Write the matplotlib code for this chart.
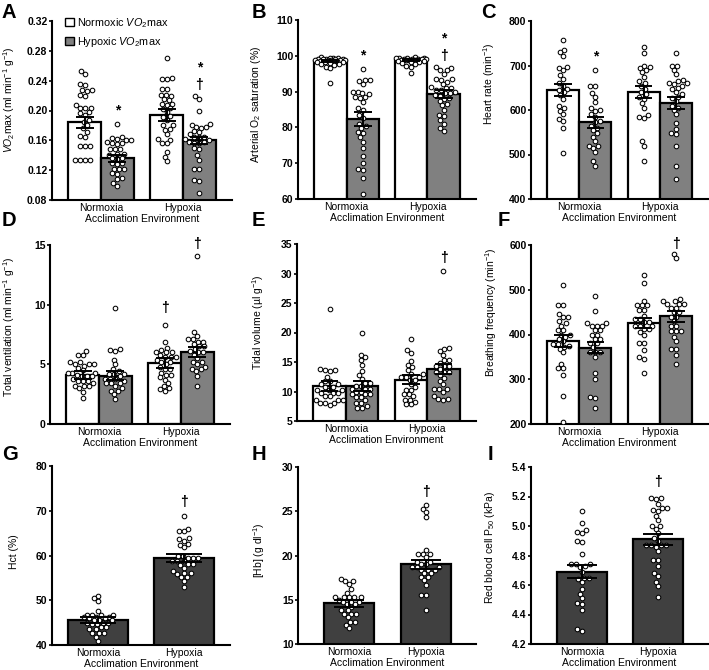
import numpy as np
import matplotlib
matplotlib.use("Agg")
import matplotlib.pyplot as plt
from matplotlib.patches import Patch

plt.rcParams['font.family'] = ['Liberation Sans', 'DejaVu Sans']
plt.rcParams['mathtext.fontset'] = 'custom'
plt.rcParams['mathtext.rm'] = 'Liberation Sans'
plt.rcParams['mathtext.it'] = 'Liberation Sans:italic'
plt.rcParams['mathtext.bf'] = 'Liberation Sans:bold'

groups = ['Normoxia', 'Hypoxia']
xlabel_text = 'Acclimation Environment'
series_labels = [r'Normoxic $\mathit{VO}_2$max', r'Hypoxic $\mathit{VO}_2$max']

# ---- Panel A: VO2max ----
a_nn = [0.253,0.249,0.235,0.234,0.228,0.228,0.226,0.221,0.220,0.208,0.204,0.204,0.203,0.198,0.197,0.194,0.187,0.185,0.180,0.176,0.171,0.166,0.165,0.153,0.153,0.152,0.134,0.134,0.134,0.134]
a_nh = [0.182,0.165,0.163,0.162,0.160,0.160,0.158,0.156,0.156,0.155,0.149,0.149,0.148,0.142,0.142,0.141,0.136,0.136,0.135,0.129,0.129,0.128,0.122,0.122,0.121,0.116,0.115,0.109,0.108,0.103,0.099]
a_hn = [0.271,0.244,0.242,0.242,0.229,0.229,0.221,0.221,0.220,0.215,0.214,0.209,0.209,0.208,0.203,0.202,0.198,0.192,0.191,0.187,0.180,0.180,0.175,0.174,0.168,0.162,0.161,0.157,0.156,0.145,0.138,0.132]
a_hh = [0.219,0.215,0.200,0.182,0.181,0.178,0.178,0.177,0.172,0.171,0.168,0.165,0.165,0.164,0.162,0.161,0.158,0.158,0.157,0.157,0.150,0.149,0.140,0.134,0.122,0.121,0.107,0.106,0.089]
a_mean = [[0.184, 0.136], [0.194, 0.160]]
a_sem = [[0.0076, 0.005], [0.0076, 0.005]]

# ---- Panel B: arterial O2 saturation ----
b_nn = [99.6,99.5,99.4,99.3,99.2,99.2,99.1,99.0,99.0,98.9,98.9,98.8,98.8,98.7,98.6,98.5,98.5,98.4,98.3,98.2,98.0,97.8,97.6,97.3,97.0,96.5,92.3]
b_nh = [96.3,93.3,93.2,93.0,92.0,90.0,89.8,89.5,89.3,88.6,88.4,88.2,87.0,85.3,85.0,83.5,82.5,81.0,80.5,79.8,78.8,78.5,77.2,76.0,74.2,72.0,70.0,68.3,68.2,65.8,61.3]
b_hn = [99.6,99.5,99.4,99.4,99.3,99.2,99.1,99.1,99.0,99.0,98.9,98.8,98.8,98.7,98.6,98.5,98.4,98.2,98.0,97.6,97.2,96.8,95.2]
b_hh = [96.8,96.6,96.1,95.9,95.0,93.5,93.4,93.2,92.8,92.0,91.2,91.1,90.9,90.5,90.4,89.8,89.7,89.6,89.0,88.9,88.2,88.0,87.5,86.5,86.3,85.0,83.5,83.3,82.0,81.0,79.8,79.0]
b_mean = [[98.5, 82.3], [98.8, 89.3]]
b_sem = [[0.3, 1.9], [0.2, 1.15]]

# ---- Panel C: heart rate ----
c_nn = [757,735,730,722,697,695,690,678,670,660,655,648,645,640,633,625,610,605,598,590,580,575,560,503]
c_nh = [690,655,653,638,630,618,605,600,598,592,585,575,573,565,560,555,548,540,530,520,518,515,505,485,475]
c_hn = [742,728,700,697,695,690,685,675,665,660,655,648,640,635,630,625,615,605,588,585,582,530,520,485]
c_hh = [728,700,698,690,680,668,665,660,660,658,655,650,648,640,635,630,628,620,610,605,600,590,570,558,548,545,520,475,445]
c_mean = [[645, 572], [641, 616]]
c_sem = [[13, 12], [13, 14]]

# ---- Panel D: total ventilation ----
d_nn = [6.1,5.8,5.8,5.2,5.2,5.0,5.0,5.0,4.9,4.7,4.5,4.3,4.3,4.3,4.1,4.0,4.0,4.0,3.8,3.6,3.6,3.6,3.4,3.2,3.2,3.2,3.0,2.7,2.2]
d_nh = [9.7,6.3,6.2,6.1,5.4,5.0,4.6,4.4,4.2,4.2,4.2,4.0,3.8,3.8,3.8,3.6,3.4,3.4,3.4,3.2,3.0,2.8,2.8,2.5,2.1]
d_hn = [8.3,6.9,6.4,6.2,6.0,6.0,6.0,5.8,5.6,5.6,5.6,5.4,5.2,5.2,5.0,4.8,4.6,4.6,4.3,4.1,4.1,3.9,3.7,3.4,3.2,3.0,2.9,2.8]
d_hh = [14.1,7.7,7.4,7.1,7.1,6.9,6.9,6.7,6.5,6.5,6.3,6.1,6.0,6.0,5.8,5.5,5.2,5.2,5.0,4.8,4.6,4.6,4.4,4.0,3.2]
d_mean = [[4.1, 4.05], [5.1, 6.05]]
d_sem = [[0.33, 0.38], [0.39, 0.42]]

# ---- Panel E: tidal volume ----
e_nn = [23.9,13.8,13.7,13.6,13.5,12.5,11.8,11.8,11.2,11.2,10.8,10.8,10.3,10.3,10.3,9.8,9.8,9.8,9.2,9.2,8.5,8.5,8.5,8.0,8.0,8.0,7.7]
e_nh = [19.9,16.2,15.8,15.3,14.5,13.5,12.8,12.2,11.5,11.5,11.0,11.0,10.5,10.5,10.5,10.0,10.0,9.5,9.5,9.5,9.0,9.0,8.5,8.0,8.0,7.5,7.2,7.2]
e_hn = [18.9,17.0,16.5,15.2,14.5,14.1,13.6,12.9,12.9,12.5,12.5,12.5,12.0,12.0,11.2,10.8,10.3,10.3,9.6,9.6,9.2,8.6,8.6,8.2,7.8,7.8]
e_hh = [30.5,17.3,17.2,16.8,16.2,15.3,15.3,14.8,14.3,14.3,14.3,13.8,13.3,13.3,13.3,12.8,12.3,11.8,11.2,10.5,10.5,10.5,10.0,9.2,8.8,8.8,8.6]
e_mean = [[10.9, 10.9], [12.0, 13.8]]
e_sem = [[0.85, 0.85], [0.74, 0.9]]

# ---- Panel F: breathing frequency ----
f_nn = [510,466,465,445,440,440,430,425,420,410,410,400,400,395,390,385,378,378,375,372,368,360,335,325,325,310,262,205]
f_nh = [486,452,425,425,420,420,420,410,410,400,400,390,390,380,380,372,362,362,362,350,315,300,260,258,236]
f_hn = [532,515,475,465,465,465,455,455,442,435,435,428,428,420,420,420,412,412,405,398,380,380,365,350,346,315]
f_hh = [580,570,480,475,475,468,468,468,460,460,450,450,440,440,430,420,420,408,408,408,395,385,368,368,355,335]
f_mean = [[385, 370], [426, 441]]
f_sem = [[13.8, 12.3], [10.8, 12.3]]

# ---- Panel G: Hct ----
g_n = [51.0,50.5,49.8,47.6,46.6,46.6,46.6,46.6,46.3,46.3,46.3,46.0,46.0,45.6,45.6,45.6,45.0,45.0,45.0,44.6,44.6,44.0,44.0,43.5,43.5,42.6,42.6,42.6,41.8,40.8]
g_h = [68.8,66.0,65.5,65.4,63.8,63.6,63.3,62.5,62.4,61.8,60.0,59.9,59.5,59.5,59.4,58.8,58.8,58.7,58.0,58.0,57.9,57.2,56.5,56.0,56.0,55.9,55.2,55.1,54.3,53.0]
g_mean = [45.6, 59.5]
g_sem = [0.63, 0.93]

# ---- Panel H: [Hb] ----
h_n = [17.3,17.1,17.1,16.8,16.2,15.8,15.3,15.3,15.3,15.3,15.3,15.0,14.8,14.8,14.8,14.5,14.5,14.2,13.8,13.8,13.4,13.4,13.4,13.0,12.5,12.5,12.2,11.8]
h_h = [25.7,25.3,24.9,24.3,20.6,20.2,20.2,20.2,19.8,19.3,19.3,19.0,19.0,18.7,18.7,18.7,18.4,18.4,18.4,18.0,18.0,17.6,17.6,17.2,16.7,15.5,15.5,13.8]
h_mean = [14.6, 19.0]
h_sem = [0.375, 0.54]

# ---- Panel I: RBC P50 ----
i_n = [5.10,5.02,4.97,4.96,4.95,4.90,4.89,4.81,4.74,4.74,4.74,4.73,4.72,4.69,4.65,4.65,4.64,4.62,4.57,4.54,4.51,4.48,4.47,4.43,4.30,4.29]
i_h = [5.19,5.19,5.18,5.15,5.12,5.12,5.11,5.10,5.07,5.04,5.00,5.00,4.98,4.95,4.92,4.90,4.87,4.87,4.87,4.87,4.86,4.83,4.77,4.77,4.73,4.68,4.66,4.62,4.59,4.52]
i_mean = [4.69, 4.91]
i_sem = [0.045, 0.037]

# significance marks: (symbol, group, series, y)
a_marks = [('*', 0, 1, 0.206), ('*', 1, 1, 0.263), ('†', 1, 1, 0.234)]
b_marks = [('*', 0, 1, 101.2), ('*', 1, 1, 106.0), ('†', 1, 1, 100.0)]
c_marks = [('*', 0, 1, 730)]
d_marks = [('†', 1, 0, 9.7), ('†', 1, 1, 15.1)]
e_marks = [('†', 1, 1, 32.7)]
f_marks = [('†', 1, 1, 603)]
g_marks = [('†', 1, 0, 72.0)]
h_marks = [('†', 1, 0, 27.2)]
i_marks = [('†', 1, 0, 5.30)]

WHITE = 'white'
GRAY = '#808080'
DARK = '#404040'

W, H = 709, 670
fig = plt.figure(figsize=(W / 100, H / 100), dpi=100)


def px_axes(l, r, t, b):
    return fig.add_axes([l / W, 1 - b / H, (r - l) / W, (b - t) / H])


def swarm(ax, vals, xc, d=4.8, maxw=15.0):
    tr = ax.transData
    vals = np.asarray(vals, float)
    ypx = tr.transform(np.column_stack([np.full(len(vals), xc), vals]))[:, 1]
    x0 = tr.transform((xc, 0))[0]
    ppu = tr.transform((xc + 1, 0))[0] - x0
    grid = np.arange(-maxw, maxw + 0.01, 0.5)
    grid = grid[np.lexsort((grid, np.abs(grid)))]
    order = np.argsort(ypx, kind='stable')
    px_list, py_list = [], []
    offs = np.zeros(len(vals))
    for i in order:
        y = ypx[i]
        if not px_list:
            c = 0.0
        else:
            P = np.array(px_list)
            Q = np.array(py_list)
            dist = np.sqrt((grid[:, None] - P[None, :]) ** 2 + (y - Q[None, :]) ** 2).min(axis=1)
            valid = dist >= d
            if valid.any():
                c = grid[np.argmax(valid)]
            else:
                c = grid[np.argmax(dist)]
        px_list.append(c)
        py_list.append(y)
        offs[i] = c
    return xc + offs / ppu


def style_axes(ax, ylim, ticks, fmt, ylabel, xlim):
    ax.set_xlim(*xlim)
    ax.set_ylim(*ylim)
    ax.set_yticks(ticks)
    ax.set_yticklabels([fmt.format(t) for t in ticks], fontsize=7.5, fontweight='bold')
    ax.set_xticks([0, 1])
    ax.set_xticklabels(groups, fontsize=7.5)
    ax.tick_params(axis='x', length=0, pad=2.5)
    ax.tick_params(axis='y', length=2.5, width=1.2, pad=0.8)
    for s in ['top', 'right']:
        ax.spines[s].set_visible(False)
    for s in ['left', 'bottom']:
        ax.spines[s].set_linewidth(1.5)
    ax.set_xlabel(xlabel_text, fontsize=7.5, labelpad=0.3)
    ax.set_ylabel(ylabel, fontsize=7.5)


def errbar(ax, x, m, s, hw):
    ax.vlines(x, m - s, m + s, color='black', lw=1.4, zorder=5)
    ax.hlines([m - s, m + s], x - hw, x + hw, color='black', lw=1.4, zorder=5)


def mark(ax, sym, x, y):
    fs = 10
    k = 0.58 if sym == '*' else 0.3
    ax.annotate(sym, xy=(x, y), xytext=(0, -k * fs), textcoords='offset points',
                ha='center', va='baseline', fontsize=fs, fontweight='bold',
                annotation_clip=False, zorder=6)


def label_coords(ax, cx, cy):
    pos = ax.get_position()
    l = pos.x0 * W
    w = pos.width * W
    top = (1 - pos.y1) * H
    h = pos.height * H
    return ((cx + 4 - l) / w, 1 - (cy - top) / h)


def panel2(box, data, means, sems, marks, ylim, ticks, fmt, ylabel, lab_c):
    ax = px_axes(*box)
    style_axes(ax, ylim, ticks, fmt, ylabel, (-0.6, 1.6))
    ax.yaxis.set_label_coords(*label_coords(ax, *lab_c))
    bw = 0.4
    for g in range(2):
        for s in range(2):
            x = g + (s - 0.5) * bw
            ax.bar(x, means[g][s], width=bw, bottom=0, color=[WHITE, GRAY][s],
                   edgecolor='black', linewidth=1.6, zorder=2)
            xs = swarm(ax, data[g][s], x)
            ax.scatter(xs, data[g][s], s=11, facecolor='white', edgecolor='black',
                       linewidth=0.75, zorder=4)
            errbar(ax, x, means[g][s], sems[g][s], 0.11)
    for sym, g, s, y in marks:
        mark(ax, sym, g + (s - 0.5) * bw, y)
    return ax


def panel1(box, data, means, sems, marks, ylim, ticks, fmt, ylabel, lab_c, xlim, bw):
    ax = px_axes(*box)
    style_axes(ax, ylim, ticks, fmt, ylabel, xlim)
    ax.yaxis.set_label_coords(*label_coords(ax, *lab_c))
    for g in range(2):
        ax.bar(g, means[g], width=bw, bottom=0, color=DARK, edgecolor='black',
               linewidth=1.6, zorder=2)
        xs = swarm(ax, data[g], g)
        ax.scatter(xs, data[g], s=11, facecolor='white', edgecolor='black',
                   linewidth=0.75, zorder=4)
        errbar(ax, g, means[g], sems[g], bw * 0.3)
    for sym, g, s, y in marks:
        mark(ax, sym, g, y)
    return ax


axA = panel2((52, 232, 21, 200), [[a_nn, a_nh], [a_hn, a_hh]], a_mean, a_sem, a_marks,
             (0.08, 0.32), np.arange(0.08, 0.3201, 0.04), '{:.2f}',
             r'$\mathit{VO}_2$max (ml min$^{-1}$ g$^{-1}$)', (13, 100))
panel2((298, 476, 20, 199), [[b_nn, b_nh], [b_hn, b_hh]], b_mean, b_sem, b_marks,
       (60, 110), np.arange(60, 111, 10), '{:.0f}',
       r'Arterial O$_2$ saturation (%)', (259, 104))
panel2((531, 708, 21, 199), [[c_nn, c_nh], [c_hn, c_hh]], c_mean, c_sem, c_marks,
       (400, 800), np.arange(400, 801, 100), '{:.0f}',
       r'Heart rate (min$^{-1}$)', (493, 84))
panel2((50, 230, 245, 424), [[d_nn, d_nh], [d_hn, d_hh]], d_mean, d_sem, d_marks,
       (0, 15), np.arange(0, 16, 5), '{:.0f}',
       r'Total ventilation (ml min$^{-1}$ g$^{-1}$)', (13, 327))
panel2((297, 476, 244, 421), [[e_nn, e_nh], [e_hn, e_hh]], e_mean, e_sem, e_marks,
       (5, 35), np.arange(5, 36, 5), '{:.0f}',
       r'Tidal volume (µl g$^{-1}$)', (262, 322))
panel2((531, 708, 245, 424), [[f_nn, f_nh], [f_hn, f_hh]], f_mean, f_sem, f_marks,
       (200, 600), np.arange(200, 601, 100), '{:.0f}',
       r'Breathing frequency (min$^{-1}$)', (495, 312))
panel1((52, 230, 466, 645), [g_n, g_h], g_mean, g_sem, g_marks,
       (40, 80), np.arange(40, 81, 10), '{:.0f}', 'Hct (%)', (15, 552),
       (-0.53, 1.53), 0.7)
panel1((298, 476, 467, 644), [h_n, h_h], h_mean, h_sem, h_marks,
       (10, 30), np.arange(10, 31, 5), '{:.0f}', r'[Hb] (g dl$^{-1}$)', (263, 550),
       (-0.67, 1.65), 0.65)
panel1((531, 708, 467, 644), [i_n, i_h], i_mean, i_sem, i_marks,
       (4.2, 5.4), np.arange(4.2, 5.401, 0.2), '{:.1f}', r'Red blood cell P$_{50}$ (kPa)',
       (493, 547), (-0.67, 1.66), 0.66)

handles = [Patch(facecolor=WHITE, edgecolor='black', linewidth=1.0),
           Patch(facecolor=GRAY, edgecolor='black', linewidth=1.0)]
axA.legend(handles, series_labels, loc='upper left', bbox_to_anchor=(0.06, 1.04),
           frameon=False, fontsize=7.8, handlelength=0.8, handleheight=0.8,
           handletextpad=0.3, labelspacing=0.45, borderaxespad=0, borderpad=0.2)

letters = [('A', 2, 3), ('B', 252, 3), ('C', 481, 3),
           ('D', 2, 211), ('E', 252, 211), ('F', 498, 211),
           ('G', 2, 445), ('H', 252, 445), ('I', 488, 445)]
for t, x, y in letters:
    fig.text(x / W, 1 - y / H, t, fontsize=14.5, fontweight='bold', ha='left', va='top')

fig.savefig('out.png', dpi=100)
